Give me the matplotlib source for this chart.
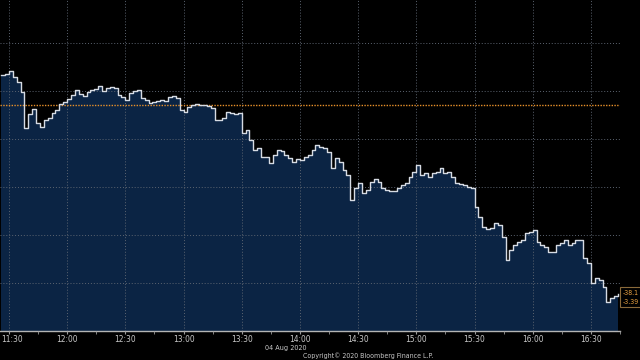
import matplotlib.pyplot as plt
from matplotlib.patches import Rectangle
from matplotlib.transforms import ScaledTranslation
import numpy as np

# 2-minute bars from 11:26 to 16:44 (minutes after 11:30)
start_min = -4
step_min = 2
prices = [
    1133.3, 1133.5, 1134.2, 1132.9, 1131.9, 1129.8, 1122.3, 1125.2, 1126.3, 1123.3,
    1122.5, 1124.0, 1124.4, 1125.4, 1126.0, 1127.3, 1127.7, 1128.3, 1129.2, 1130.2,
    1129.4, 1129.0, 1129.8, 1130.2, 1130.4, 1131.0, 1130.0, 1130.6, 1130.8, 1130.6,
    1129.2, 1128.8, 1128.1, 1129.6, 1130.0, 1130.2, 1128.5, 1128.1, 1127.5, 1127.7,
    1127.9, 1128.1, 1127.9, 1128.8, 1129.0, 1128.5, 1126.0, 1125.6, 1126.7, 1127.1,
    1127.3, 1127.1, 1127.1, 1126.9, 1126.5, 1124.0, 1124.0, 1124.4, 1125.6, 1125.4,
    1125.2, 1125.4, 1121.3, 1121.9, 1119.8, 1117.7, 1118.1, 1116.3, 1116.3, 1115.0,
    1116.7, 1117.7, 1117.5, 1116.7, 1116.0, 1115.2, 1115.8, 1115.6, 1116.3, 1116.7,
    1117.7, 1118.8, 1118.3, 1118.1, 1117.3, 1114.0, 1116.0, 1115.2, 1113.5, 1112.5,
    1107.3, 1109.8, 1110.8, 1108.8, 1109.4, 1111.0, 1111.7, 1111.0, 1109.8, 1109.4,
    1109.2, 1109.2, 1109.8, 1110.4, 1110.8, 1112.1, 1113.1, 1114.6, 1112.5, 1112.9,
    1112.1, 1112.9, 1113.1, 1114.0, 1112.9, 1113.1, 1112.1, 1110.8, 1110.6, 1110.4,
    1110.0, 1109.8, 1105.8, 1103.8, 1101.7, 1101.3, 1101.5, 1102.5, 1102.1, 1099.6,
    1094.8, 1096.9, 1097.9, 1098.5, 1099.0, 1100.4, 1100.6, 1101.0, 1098.5, 1097.9,
    1097.5, 1096.5, 1096.5, 1097.9, 1098.3, 1099.0, 1097.9, 1098.3, 1099.0, 1099.0,
    1095.2, 1094.2, 1090.0, 1091.0, 1090.6, 1089.2, 1086.0, 1086.9, 1087.3, 1087.7,
]
prev_close = 1127.1
tick_labels = ["11:30", "12:00", "12:30", "13:00", "13:30", "14:00",
               "14:30", "15:00", "15:30", "16:00", "16:30"]
last_change = "-38.1"
last_pct = "-3.39"

t = start_min + step_min * np.arange(len(prices))
y = np.array(prices)

font = dict(family="DejaVu Sans", stretch="condensed")

fig = plt.figure(figsize=(6.4, 3.6), dpi=100, facecolor="black")
ax = fig.add_axes([0, 29 / 360, 620 / 640, 331 / 360])
ax.set_facecolor("black")

ymin, ymax = 1080, 1149
ax.fill_between(t, y, ymin, step="post", color="#0b2444", lw=0, zorder=1)
ax.step(t, y, where="post", color="#d6dbe3", lw=1.0, zorder=3)
ax.axhline(prev_close, color="#e8902a", lw=1.0, ls=(0, (1, 1)), zorder=2.8)

ax.set_xlim(-4.6, 314)
ax.set_ylim(ymin, ymax)

ax.set_xticks(np.arange(0, 301, 30))
ax.set_xticks(np.arange(15, 316, 30), minor=True)
ax.set_xticklabels(tick_labels)
ax.set_yticks(np.arange(1090, 1141, 10))
ax.tick_params(axis="y", left=False, labelleft=False)
ax.tick_params(axis="x", which="both", length=2, color="#9a9a9a", pad=1,
               labelsize=6, labelcolor="#c8c8c8")
for lab in ax.get_xticklabels():
    lab.set_fontstretch("condensed")
# nudge the first label off the left edge
first = ax.get_xticklabels()[0]
first.set_transform(first.get_transform() + ScaledTranslation(3 / 100, 0, fig.dpi_scale_trans))

ax.set_axisbelow(False)
ax.grid(True, color="#5c6470", lw=0.7, ls=(0, (1, 2)), zorder=2.5)

for side in ["top", "right", "left"]:
    ax.spines[side].set_visible(False)
ax.spines["bottom"].set_color("#b4b4b4")
ax.spines["bottom"].set_linewidth(1.0)

fig.text(286 / 640, 1 - 348 / 360, "04 Aug 2020", ha="center", va="center",
         fontsize=5.2, color="#c8c8c8", **font)
fig.text(368 / 640, 1 - 356 / 360, "Copyright\u00a9 2020 Bloomberg Finance L.P.",
         ha="center", va="center", fontsize=5, color="#c8c8c8", **font)

# last value box at the right edge
fig.patches.append(Rectangle((620 / 640, 1 - 307 / 360), 30 / 640, 20 / 360,
                             transform=fig.transFigure, facecolor="black",
                             edgecolor="#8a6a3a", lw=0.8))
fig.text(623 / 640, 1 - 293 / 360, last_change, ha="left", va="center",
         fontsize=5, color="#e8a040", **font)
fig.text(623 / 640, 1 - 302 / 360, last_pct, ha="left", va="center",
         fontsize=5, color="#e8a040", **font)

fig.savefig("out.png", dpi=100, facecolor="black")
